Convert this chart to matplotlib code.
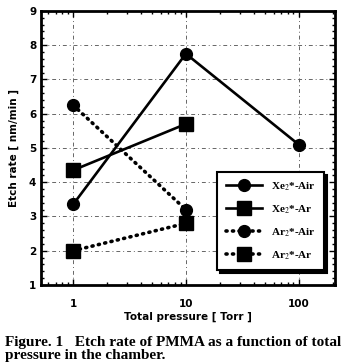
import matplotlib
matplotlib.use("Agg")
import matplotlib.pyplot as plt
from matplotlib.ticker import FixedLocator, LogLocator, NullFormatter, MultipleLocator

plt.rcParams['mathtext.fontset'] = 'stix'

# Data: etch rate of PMMA [nm/min] vs total pressure [Torr]
pressure = [1, 10, 100]
xe_air = [3.35, 7.75, 5.1]
xe_ar = [4.35, 5.7]
ar_air = [6.25, 3.2]
ar_ar = [2.0, 2.8]
series_labels = ["Xe$_2$*-Air", "Xe$_2$*-Ar", "Ar$_2$*-Air", "Ar$_2$*-Ar"]
x_ticks = [1, 10, 100]
x_ticklabels = ["1", "10", "100"]
y_ticks = [1, 2, 3, 4, 5, 6, 7, 8, 9]

fig = plt.figure(figsize=(3.45, 3.64), dpi=100)
ax = fig.add_axes([0.119, 0.217, 0.852, 0.753])

dotted = (0, (0.3, 1.5))
lw = 1.9
ax.plot(pressure, xe_air, '-', color='black', lw=lw, marker='o', ms=8.5,
        label=series_labels[0], zorder=3)
ax.plot(pressure[:2], xe_ar, '-', color='black', lw=lw, marker='s', ms=9.5,
        label=series_labels[1], zorder=3)
ax.plot(pressure[:2], ar_air, linestyle=dotted, color='black', lw=2.6,
        marker='o', ms=8.5, label=series_labels[2], zorder=3,
        dash_capstyle='round')
ax.plot(pressure[:2], ar_ar, linestyle=dotted, color='black', lw=2.6,
        marker='s', ms=9.5, label=series_labels[3], zorder=3,
        dash_capstyle='round')

ax.set_xscale('log')
ax.set_xlim(0.52, 210)
ax.set_ylim(1, 9)
ax.xaxis.set_major_locator(FixedLocator(x_ticks))
ax.set_xticklabels(x_ticklabels)
ax.xaxis.set_minor_locator(LogLocator(base=10, subs=range(2, 10)))
ax.xaxis.set_minor_formatter(NullFormatter())
ax.yaxis.set_major_locator(FixedLocator(y_ticks))
ax.yaxis.set_minor_locator(MultipleLocator(0.2))

ax.tick_params(which='both', direction='in', top=True, right=True,
               width=1.0, color='black')
ax.tick_params(which='major', length=4)
ax.tick_params(which='minor', length=2.5)
ax.tick_params(axis='x', which='major', pad=10)
for lab in ax.get_xticklabels() + ax.get_yticklabels():
    lab.set_fontweight('bold')
    lab.set_fontsize(7.5)
    lab.set_family('DejaVu Sans')

ax.grid(True, which='major', color='#666666', lw=0.7,
        linestyle=(0, (4, 3, 1, 3)))
for s in ax.spines.values():
    s.set_linewidth(2.0)

ax.set_xlabel("Total pressure [ Torr ]", fontsize=7.5, fontweight='bold',
              labelpad=2)
ax.set_ylabel("Etch rate [ nm/min ]", fontsize=7.5, fontweight='bold',
              labelpad=7)

leg = ax.legend(loc='upper left', bbox_to_anchor=(0.60, 0.413),
                handlelength=3.3, labelspacing=0.95,
                borderpad=0.75, handletextpad=0.8, fancybox=False,
                shadow={'color': 'black', 'alpha': 1.0, 'ox': 2, 'oy': -2},
                framealpha=1, edgecolor='black', borderaxespad=0,
                prop={'family': 'Liberation Serif', 'weight': 'bold', 'size': 8})
leg.get_frame().set_linewidth(1.5)

fig.text(0.015, 0.05, "Figure. 1   Etch rate of PMMA as a function of total",
         family='Liberation Serif', fontsize=11, fontweight='bold')
fig.text(0.015, 0.013, "pressure in the chamber.",
         family='Liberation Serif', fontsize=11, fontweight='bold')

fig.savefig("out.png", dpi=100)
